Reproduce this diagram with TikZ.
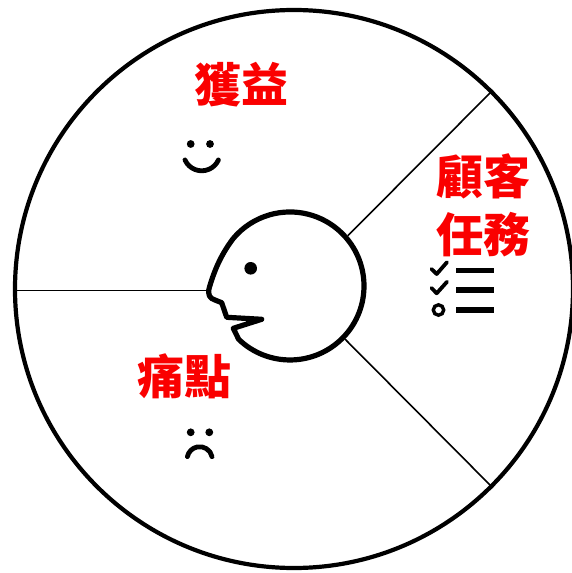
\documentclass[tikz,border=0pt]{standalone}
\usepackage{fontspec}
\newfontfamily\cjk{Noto Sans CJK TC}
\definecolor{tagred}{RGB}{250,0,0}
\tikzset{
  spoke/.style={line width=1.6pt},
  heavy/.style={line width=5.2pt, line join=round},
  icon/.style={line width=3.8pt, line cap=round, line join=round},
  redtag/.style={text=tagred, font=\cjk\bfseries\fontsize{47}{58}\selectfont, align=center, inner sep=0pt}
}

\begin{document}
\begin{tikzpicture}[x=1pt, y=1pt]
  \useasboundingbox (-294,-284) rectangle (278,289);
  % outer ring and the head in the middle
  \node[circle, draw, line width=4.2pt, minimum size=558pt, inner sep=0pt] (wheel) at (0,0) {};
  \node[circle, minimum size=148pt, inner sep=0pt, outer sep=2.6pt] (head) at (-4,3) {};
  \coordinate (nose) at (-86,-1.5);
  \draw[heavy] (-60.7,50.6) .. controls (-74,33) and (-80,17) .. (-84.5,2)
     .. controls (-87,-6) and (-84,-9.5) .. (-79,-11) -- (-72.3,-13.7) -- (-67.3,-28.3)
     -- (-32.3,-30.3) -- (-60.7,-39.3) -- (-55.4,-50.2)
     arc[start angle=226, end angle=500, radius=74] -- cycle;
  \fill (-43.3,20.7) circle (6.3);

  % spokes
  \draw[spoke] (head.41) -- (wheel.45);
  \draw[spoke] (head.-44) -- (wheel.-45);
  \draw[spoke] (nose) -- (nose -| wheel.west);

  % labels
  \node[redtag] (gains) at (-52.5,204) {獲益};
  \node[redtag] (jobs) at (189.5,84) {顧客\\任務};
  \node[redtag] (pains) at (-109,-87) {痛點};

  % smile
  \fill (-103.3,145) circle (3.9);
  \fill (-84,145) circle (3.9);
  \draw[icon, line width=4.8pt] (-92.3,136.5) ++(204:18.3) arc[start angle=204, end angle=336, radius=18.3];

  % frown
  \fill (-103.3,-143.3) circle (3.9);
  \fill (-84.7,-143.3) circle (3.9);
  \draw[icon, line width=4.8pt] (-94.3,-170.3) ++(12:12.6) arc[start angle=12, end angle=168, radius=12.6];

  % checklist
  \draw[icon] (137.5,20) -- (142.7,15) -- (153,26.8);
  \draw[icon] (137.5,1) -- (142.7,-4.3) -- (153,7.2);
  \draw[line width=3.4pt] (144.5,-21) circle (5.2);
  \foreach \y in {18.3,-1,-21}
    \draw[line width=5.4pt] (162,\y) -- (200.3,\y);
\end{tikzpicture}
\end{document}
